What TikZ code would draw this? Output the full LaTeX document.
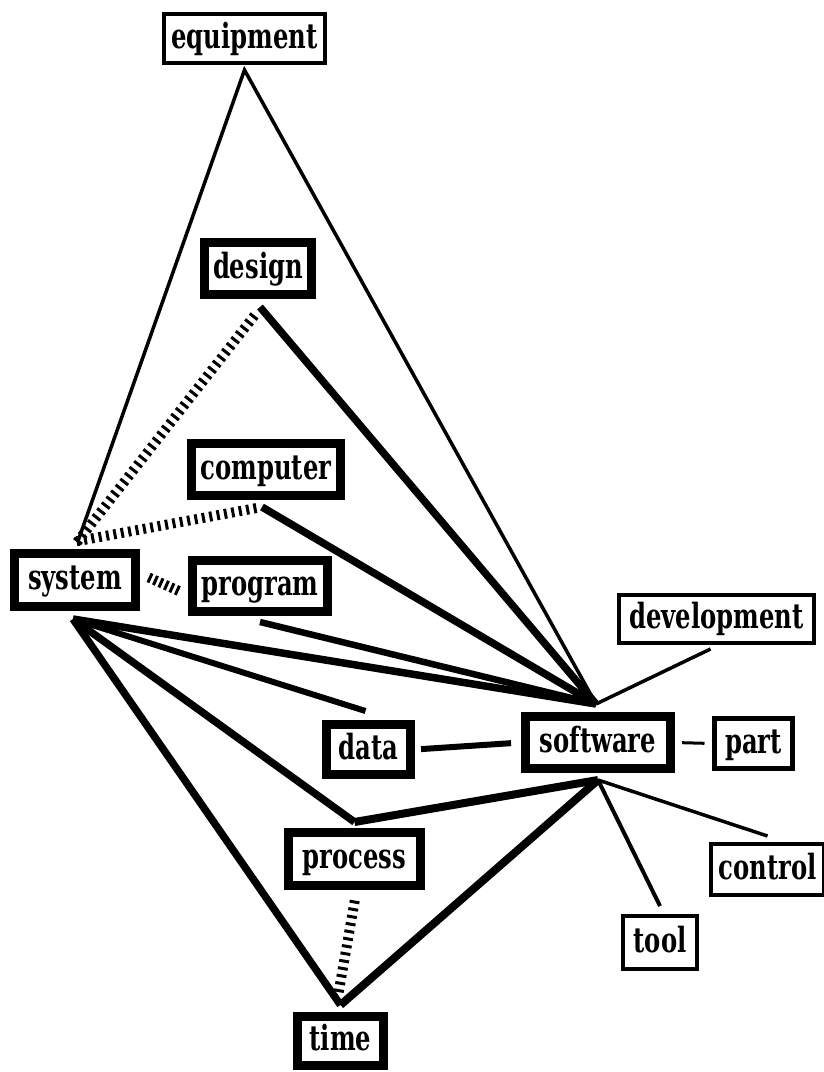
\documentclass[tikz,border=0pt]{standalone}
\usepackage{fontspec}
\setmainfont[FakeStretch=0.70]{DejaVu Serif Bold}
\usetikzlibrary{decorations.pathreplacing}
\pgfdeclarelayer{links}
\pgfsetlayers{links,main}
\begin{document}
\begin{tikzpicture}[x=1pt,y=-1pt,
  box/.style={draw, fill=white, inner sep=0pt, text height=19pt, text depth=0pt,
              font=\fontsize{34.7}{40}\selectfont},
  heavybox/.style={box, line width=9pt},
  lightbox/.style={box, line width=4pt},
  heavy/.style={line width=7.5pt},
  light/.style={line width=3.5pt},
  hatch/.style={decorate, decoration={ticks, segment length=7.5pt, amplitude=5pt},
                line width=3pt}]
\useasboundingbox (0,0) rectangle (824,1072);

% terms
\node[lightbox, minimum width=161pt, minimum height=49pt] (equipment) at (244.5,38.5) {equipment};
\node[heavybox, minimum width=107pt, minimum height=52pt] (design) at (258,268.5) {design};
\node[heavybox, minimum width=149pt, minimum height=52pt] (computer) at (266,469.5) {computer};
\node[heavybox, minimum width=121pt, minimum height=53pt] (system) at (75,580) {system};
\node[heavybox, minimum width=135pt, minimum height=51pt] (program) at (260,586) {program};
\node[lightbox, minimum width=195pt, minimum height=48pt] (development) at (716.5,619) {development};
\node[heavybox, minimum width=84pt, minimum height=50pt] (data) at (368.5,749.5) {data};
\node[heavybox, minimum width=145pt, minimum height=52pt] (software) at (598,742.5) {software};
\node[box, line width=5pt, minimum width=78pt, minimum height=50pt] (part) at (753.5,743.5) {part};
\node[heavybox, minimum width=132pt, minimum height=53pt] (process) at (354.5,859) {process};
\node[lightbox, minimum width=113pt, minimum height=51pt] (control) at (767.5,869.5) {control};
\node[lightbox, minimum width=74pt, minimum height=53pt] (tool) at (660,942.5) {tool};
\node[heavybox, minimum width=86pt, minimum height=49pt] (time) at (340.5,1041) {time};

% attachment points just outside the boxes
\coordinate (eqS) at ([yshift=-5pt]equipment.south);
\coordinate (deS) at ([xshift=2pt,yshift=-8pt]design.south);
\coordinate (coS) at ([xshift=-4pt,yshift=-7pt]computer.south);
\coordinate (prS) at ([yshift=-6pt]program.south);
\coordinate (syS) at ([xshift=-2pt,yshift=-8pt]system.south);
\coordinate (syN) at ([xshift=3pt,yshift=8pt]system.north);
\coordinate (swN) at ([xshift=-2pt,yshift=8pt]software.north);
\coordinate (swS) at ([yshift=-7pt]software.south);
\coordinate (daN) at ([xshift=-3pt,yshift=9pt]data.north);
\coordinate (dvS) at ([xshift=-6pt,yshift=-4pt]development.south);
\coordinate (pcN) at ([yshift=6pt]process.north);
\coordinate (tiN) at ([yshift=7pt]time.north);
\coordinate (ctN) at ([yshift=6pt]control.north);
\coordinate (toN) at ([yshift=8pt]tool.north);

\begin{pgfonlayer}{links}
  \fill[white] (0,0) rectangle (824,1072);
  % weak links
  \draw[light] (syN) -- (eqS) -- (swN);
  \draw[light] (dvS) -- (swN);
  \draw[light] (swS) -- (ctN);
  \draw[line width=4pt] (swS) -- (toN);
  \draw[line width=3pt, shorten <=7pt, shorten >=7.5pt] (software.east) -- (part.west);
  % strong links
  \draw[heavy] (deS) -- (swN);
  \draw[heavy] (coS) -- (swN);
  \draw[line width=6.5pt] (prS) -- (swN);
  \draw[heavy] (syS) -- (swN);
  \draw[line width=6pt] (syS) -- (daN);
  \draw[heavy] (syS) -- (pcN);
  \draw[heavy] (syS) -- (tiN);
  \draw[line width=8pt] (pcN) -- (swS);
  \draw[line width=8pt] (tiN) -- (swS);
  \draw[line width=6pt, shorten <=6pt, shorten >=10pt] (data.east) -- (software.west);
  % hatched links
  \draw[hatch] (syN) -- ([yshift=-12pt]design.south);
  \draw[hatch] (syN) -- (coS);
  \draw[hatch, decoration={segment length=6pt}]
    ([xshift=10pt,yshift=2pt]system.east) -- ([xshift=-9pt,yshift=-5pt]program.west);
  \draw[hatch] ([yshift=-12pt]process.south) -- ([xshift=-2pt,yshift=19pt]time.north);
\end{pgfonlayer}
\end{tikzpicture}
\end{document}
